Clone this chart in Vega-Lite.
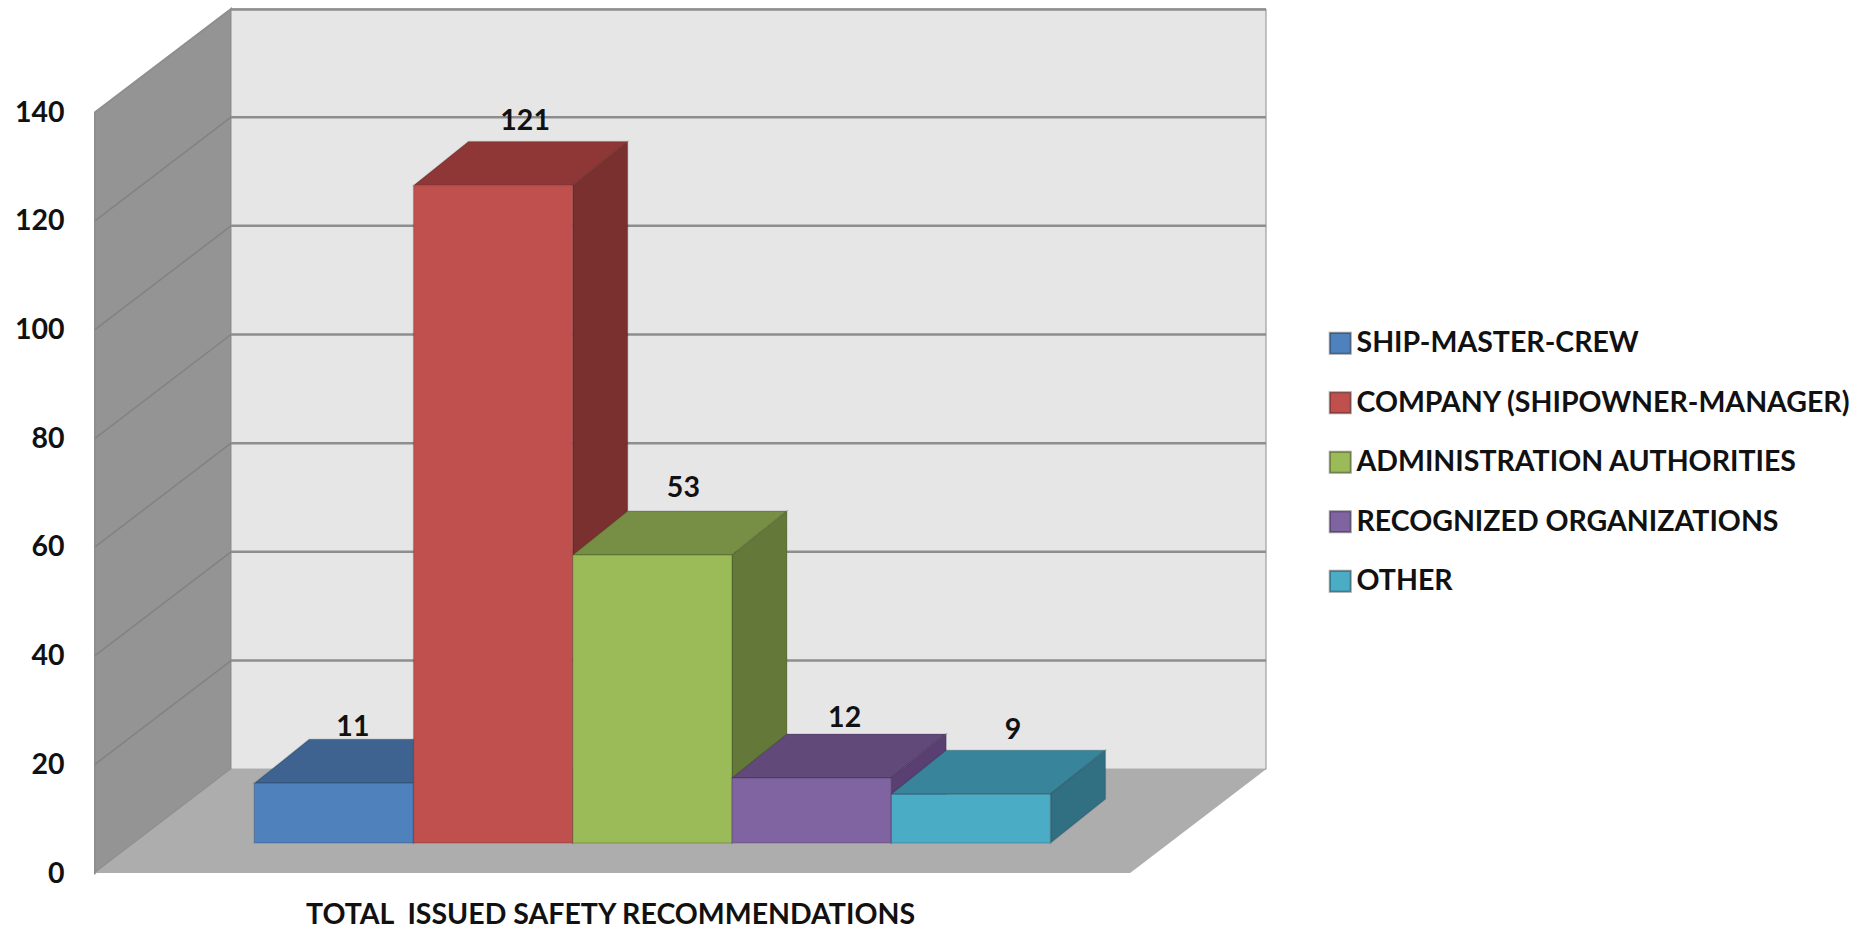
{
"$schema":"https://vega.github.io/schema/vega-lite/v6.json",
"width":1171,"height":864,
"autosize":{"type":"none"},
"padding":{"left":95,"top":9,"right":608,"bottom":56},
"background":"white",
"config":{"view":{"stroke":null},"font":"Lato"},
"datasets":{
"bars":[
{"category":"SHIP-MASTER-CREW","value":11},
{"category":"COMPANY (SHIPOWNER-MANAGER)","value":121},
{"category":"ADMINISTRATION AUTHORITIES","value":53},
{"category":"RECOGNIZED ORGANIZATIONS","value":12},
{"category":"OTHER","value":9}],
"walls":[
{"piece":"left wall","x":0,"y":140,"y2":0},
{"piece":"left wall","x":0.854,"y":159,"y2":19.1},
{"piece":"back wall","x":0.854,"y":159,"y2":19.1},
{"piece":"back wall","x":7.353,"y":159,"y2":19.1},
{"piece":"floor","x":0,"y":0,"y2":0},
{"piece":"floor","x":0.854,"y":19.1,"y2":0},
{"piece":"floor","x":6.5,"y":19.1,"y2":0},
{"piece":"floor","x":7.353,"y":19.1,"y2":19.1}],
"wallLines":[
{"level":20,"x":0,"y":20},{"level":20,"x":0.854,"y":39.1},
{"level":40,"x":0,"y":40},{"level":40,"x":0.854,"y":59.1},
{"level":60,"x":0,"y":60},{"level":60,"x":0.854,"y":79.1},
{"level":80,"x":0,"y":80},{"level":80,"x":0.854,"y":99.1},
{"level":100,"x":0,"y":100},{"level":100,"x":0.854,"y":119.1},
{"level":120,"x":0,"y":120},{"level":120,"x":0.854,"y":139.1}],
"backLines":[{"y":39.1},{"y":59.1},{"y":79.1},{"y":99.1},{"y":119.1},{"y":139.1},{"y":158.9}],
"faces":[
{"face":"blue top","x":1,"y":16.5,"y2":16.5},{"face":"blue top","x":1.345,"y":24.6,"y2":16.5},{"face":"blue top","x":2,"y":24.6,"y2":16.5},{"face":"blue top","x":2.345,"y":24.6,"y2":24.6},
{"face":"blue side","x":2,"y":16.5,"y2":5.5},{"face":"blue side","x":2.345,"y":24.6,"y2":13.6},
{"face":"red top","x":2,"y":126.5,"y2":126.5},{"face":"red top","x":2.345,"y":134.6,"y2":126.5},{"face":"red top","x":3,"y":134.6,"y2":126.5},{"face":"red top","x":3.345,"y":134.6,"y2":134.6},
{"face":"red side","x":3,"y":126.5,"y2":5.5},{"face":"red side","x":3.345,"y":134.6,"y2":13.6},
{"face":"green top","x":3,"y":58.5,"y2":58.5},{"face":"green top","x":3.345,"y":66.6,"y2":58.5},{"face":"green top","x":4,"y":66.6,"y2":58.5},{"face":"green top","x":4.345,"y":66.6,"y2":66.6},
{"face":"green side","x":4,"y":58.5,"y2":5.5},{"face":"green side","x":4.345,"y":66.6,"y2":13.6},
{"face":"purple top","x":4,"y":17.5,"y2":17.5},{"face":"purple top","x":4.345,"y":25.6,"y2":17.5},{"face":"purple top","x":5,"y":25.6,"y2":17.5},{"face":"purple top","x":5.345,"y":25.6,"y2":25.6},
{"face":"purple side","x":5,"y":17.5,"y2":5.5},{"face":"purple side","x":5.345,"y":25.6,"y2":13.6},
{"face":"teal top","x":5,"y":14.5,"y2":14.5},{"face":"teal top","x":5.345,"y":22.6,"y2":14.5},{"face":"teal top","x":6,"y":22.6,"y2":14.5},{"face":"teal top","x":6.345,"y":22.6,"y2":22.6},
{"face":"teal side","x":6,"y":14.5,"y2":5.5},{"face":"teal side","x":6.345,"y":22.6,"y2":13.6}]
},
"resolve":{"scale":{"x":"independent","y":"independent","color":"independent","strokeWidth":"independent"},"axis":{"x":"independent","y":"independent"}},
"layer":[
{"data":{"name":"walls"},
 "mark":{"type":"area","stroke":"#8e8e8e"},
 "encoding":{
  "x":{"field":"x","type":"quantitative","scale":{"domain":[0,7.353],"nice":false,"zero":false},"axis":null},
  "y":{"field":"y","type":"quantitative","scale":{"domain":[0,159],"nice":false},
       "axis":{"values":[0,20,40,60,80,100,120,140],"title":null,"domain":false,"ticks":false,"grid":false,"labelFont":"Lato","labelFontWeight":"bold","labelFontSize":28.5,"labelColor":"#111","labelPadding":31}},
  "y2":{"field":"y2"},
  "detail":{"field":"piece"},
  "strokeWidth":{"field":"piece","type":"nominal","legend":null,"scale":{"domain":["left wall","back wall","floor"],"range":[2,0,2.5]}},
  "color":{"field":"piece","type":"nominal","legend":null,"scale":{"domain":["left wall","back wall","floor"],"range":["#949494","#e6e6e6","#adadad"]}}}},
{"data":{"name":"wallLines"},
 "mark":{"type":"line","color":"#828282","strokeWidth":1.5},
 "encoding":{
  "x":{"field":"x","type":"quantitative","scale":{"domain":[0,7.353],"nice":false,"zero":false},"axis":null},
  "y":{"field":"y","type":"quantitative","scale":{"domain":[0,159],"nice":false},"axis":null},
  "detail":{"field":"level"}}},
{"data":{"name":"backLines"},
 "mark":{"type":"rule","color":"#8e8e8e","strokeWidth":2.5},
 "encoding":{
  "x":{"datum":0.854,"type":"quantitative","scale":{"domain":[0,7.353],"nice":false,"zero":false},"axis":null},
  "x2":{"datum":7.353},
  "y":{"field":"y","type":"quantitative","scale":{"domain":[0,159],"nice":false},"axis":null}}},
{"data":{"name":"faces"},
 "mark":{"type":"area","stroke":"#000000","strokeOpacity":0.12,"strokeWidth":1.5},
 "encoding":{
  "x":{"field":"x","type":"quantitative","scale":{"domain":[0,7.353],"nice":false,"zero":false},"axis":null},
  "y":{"field":"y","type":"quantitative","scale":{"domain":[0,159],"nice":false},"axis":null},
  "y2":{"field":"y2"},
  "detail":{"field":"face"},
  "color":{"field":"face","type":"nominal","legend":null,"scale":{
    "domain":["blue top","blue side","red top","red side","green top","green side","purple top","purple side","teal top","teal side"],
    "range":["#3e6390","#365e8c","#8e3736","#7a302f","#778f44","#64783a","#61497a","#5a3f72","#38849b","#316f83"]}}}},
{"data":{"name":"bars"},
 "mark":{"type":"bar","stroke":"#000000","strokeOpacity":0.15,"strokeWidth":1.5},
 "encoding":{
  "x":{"field":"category","type":"nominal","sort":null,
       "scale":{"type":"band","domain":["left gap","SHIP-MASTER-CREW","COMPANY (SHIPOWNER-MANAGER)","ADMINISTRATION AUTHORITIES","RECOGNIZED ORGANIZATIONS","OTHER","right gap"],"paddingInner":0,"paddingOuter":0.1765,"align":0},
       "axis":{"title":"TOTAL \u00a0ISSUED SAFETY RECOMMENDATIONS","labels":false,"ticks":false,"domain":false,"titleFont":"Lato","titleFontWeight":"bold","titleFontSize":28.5,"titleColor":"#111","titleX":515,"titleY":41,"titleBaseline":"middle","titleAnchor":"middle","titleAlign":"center"}},
  "y":{"field":"value","type":"quantitative","scale":{"domain":[-5.5,153.5],"nice":false,"zero":false},"axis":null},
  "y2":{"datum":0},
  "color":{"field":"category","type":"nominal","scale":{"domain":["SHIP-MASTER-CREW","COMPANY (SHIPOWNER-MANAGER)","ADMINISTRATION AUTHORITIES","RECOGNIZED ORGANIZATIONS","OTHER"],"range":["#4f81bd","#c0504d","#9bbb59","#8064a2","#4bacc6"]},
   "legend":{"title":null,"orient":"none","legendX":1231,"legendY":320,"symbolType":"square","symbolSize":441,"symbolStrokeWidth":2,"symbolStrokeColor":"#00000060","labelFont":"Lato","labelFontWeight":"bold","labelFontSize":28.5,"labelColor":"#111","labelOffset":2,"rowPadding":29.5,"labelLimit":600}}}},
{"data":{"name":"bars"},"transform":[{"filter":"datum.value==11"}],
 "mark":{"type":"text","font":"Lato","fontWeight":"bold","fontSize":28.5,"color":"#111","dx":19,"dy":-56,"baseline":"middle"},
 "encoding":{"x":{"field":"category","type":"nominal","sort":null,"axis":null,"scale":{"type":"band","domain":["left gap","SHIP-MASTER-CREW","COMPANY (SHIPOWNER-MANAGER)","ADMINISTRATION AUTHORITIES","RECOGNIZED ORGANIZATIONS","OTHER","right gap"],"paddingInner":0,"paddingOuter":0.1765,"align":0}},
 "y":{"field":"value","type":"quantitative","scale":{"domain":[-5.5,153.5],"nice":false,"zero":false},"axis":null},"text":{"field":"value"}}},
{"data":{"name":"bars"},"transform":[{"filter":"datum.value==121"}],
 "mark":{"type":"text","font":"Lato","fontWeight":"bold","fontSize":28.5,"color":"#111","dx":32,"dy":-65,"baseline":"middle"},
 "encoding":{"x":{"field":"category","type":"nominal","sort":null,"axis":null,"scale":{"type":"band","domain":["left gap","SHIP-MASTER-CREW","COMPANY (SHIPOWNER-MANAGER)","ADMINISTRATION AUTHORITIES","RECOGNIZED ORGANIZATIONS","OTHER","right gap"],"paddingInner":0,"paddingOuter":0.1765,"align":0}},
 "y":{"field":"value","type":"quantitative","scale":{"domain":[-5.5,153.5],"nice":false,"zero":false},"axis":null},"text":{"field":"value"}}},
{"data":{"name":"bars"},"transform":[{"filter":"datum.value==53"}],
 "mark":{"type":"text","font":"Lato","fontWeight":"bold","fontSize":28.5,"color":"#111","dx":31,"dy":-67,"baseline":"middle"},
 "encoding":{"x":{"field":"category","type":"nominal","sort":null,"axis":null,"scale":{"type":"band","domain":["left gap","SHIP-MASTER-CREW","COMPANY (SHIPOWNER-MANAGER)","ADMINISTRATION AUTHORITIES","RECOGNIZED ORGANIZATIONS","OTHER","right gap"],"paddingInner":0,"paddingOuter":0.1765,"align":0}},
 "y":{"field":"value","type":"quantitative","scale":{"domain":[-5.5,153.5],"nice":false,"zero":false},"axis":null},"text":{"field":"value"}}},
{"data":{"name":"bars"},"transform":[{"filter":"datum.value==12"}],
 "mark":{"type":"text","font":"Lato","fontWeight":"bold","fontSize":28.5,"color":"#111","dx":33,"dy":-60,"baseline":"middle"},
 "encoding":{"x":{"field":"category","type":"nominal","sort":null,"axis":null,"scale":{"type":"band","domain":["left gap","SHIP-MASTER-CREW","COMPANY (SHIPOWNER-MANAGER)","ADMINISTRATION AUTHORITIES","RECOGNIZED ORGANIZATIONS","OTHER","right gap"],"paddingInner":0,"paddingOuter":0.1765,"align":0}},
 "y":{"field":"value","type":"quantitative","scale":{"domain":[-5.5,153.5],"nice":false,"zero":false},"axis":null},"text":{"field":"value"}}},
{"data":{"name":"bars"},"transform":[{"filter":"datum.value==9"}],
 "mark":{"type":"text","font":"Lato","fontWeight":"bold","fontSize":28.5,"color":"#111","dx":42,"dy":-64,"baseline":"middle"},
 "encoding":{"x":{"field":"category","type":"nominal","sort":null,"axis":null,"scale":{"type":"band","domain":["left gap","SHIP-MASTER-CREW","COMPANY (SHIPOWNER-MANAGER)","ADMINISTRATION AUTHORITIES","RECOGNIZED ORGANIZATIONS","OTHER","right gap"],"paddingInner":0,"paddingOuter":0.1765,"align":0}},
 "y":{"field":"value","type":"quantitative","scale":{"domain":[-5.5,153.5],"nice":false,"zero":false},"axis":null},"text":{"field":"value"}}}
]
}
